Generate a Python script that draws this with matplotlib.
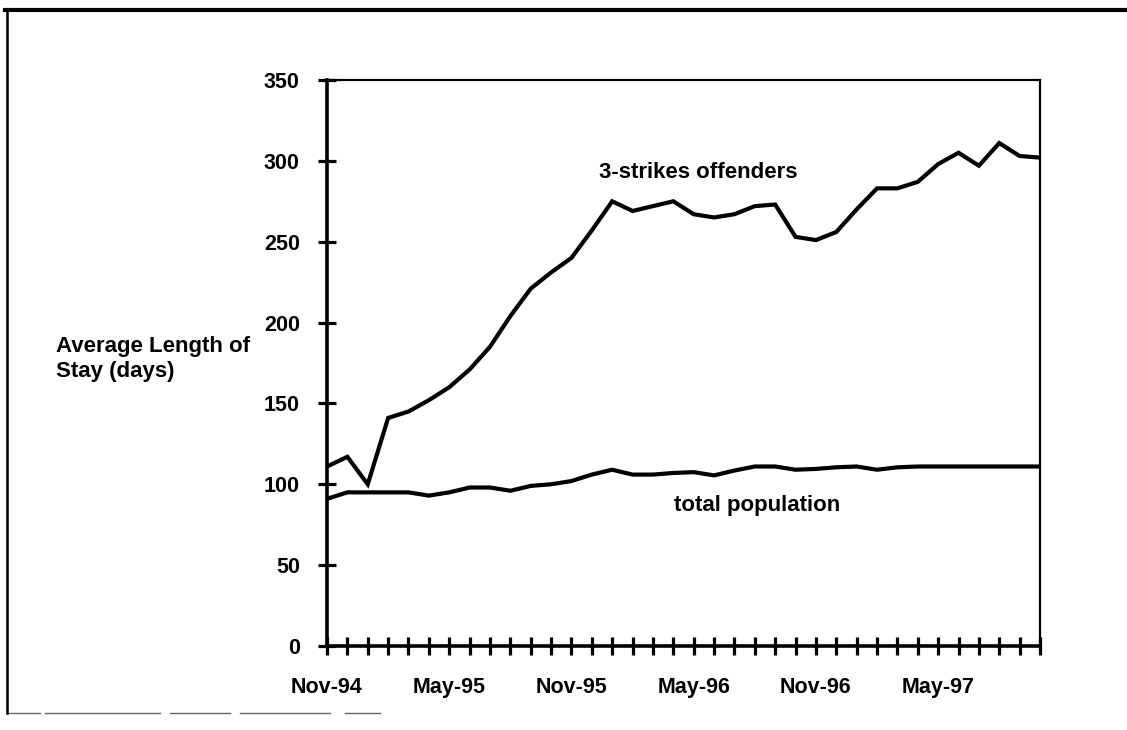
import matplotlib
matplotlib.use("Agg")
import matplotlib.pyplot as plt
from matplotlib.lines import Line2D

plt.rcParams['font.family'] = ['Liberation Sans', 'DejaVu Sans']
plt.rcParams['font.weight'] = 'bold'

months = ["Nov-94", "Dec-94", "Jan-95", "Feb-95", "Mar-95", "Apr-95",
          "May-95", "Jun-95", "Jul-95", "Aug-95", "Sep-95", "Oct-95",
          "Nov-95", "Dec-95", "Jan-96", "Feb-96", "Mar-96", "Apr-96",
          "May-96", "Jun-96", "Jul-96", "Aug-96", "Sep-96", "Oct-96",
          "Nov-96", "Dec-96", "Jan-97", "Feb-97", "Mar-97", "Apr-97",
          "May-97", "Jun-97", "Jul-97", "Aug-97", "Sep-97", "Oct-97"]

three_strikes = [111, 117, 100, 141, 145, 152, 160, 171, 185, 204, 221, 231,
                 240, 257, 275, 269, 272, 275, 267, 265, 267, 272, 273, 253,
                 251, 256, 270, 283, 283, 287, 298, 305, 297, 311, 303, 302]

total_population = [91, 95, 95, 95, 95, 93, 95, 98, 98, 96, 99, 100,
                    102, 106, 109, 106, 106, 107, 107.5, 105.5, 108.5, 111, 111, 109,
                    109.5, 110.5, 111, 109, 110.5, 111, 111, 111, 111, 111, 111, 111]

y_ticks = [0, 50, 100, 150, 200, 250, 300, 350]
label_every = 6

W, H = 1127, 730
fig = plt.figure(figsize=(W / 100, H / 100), dpi=100)
ax = fig.add_axes([327 / W, 1 - 646 / H, (1040 - 327) / W, (646 - 80) / H])

x = list(range(len(months)))
ax.plot(x, three_strikes, color='black', lw=3.0, solid_joinstyle='miter')
ax.plot(x, total_population, color='black', lw=3.0, solid_joinstyle='miter')

ax.set_xlim(0, len(months) - 1)
ax.set_ylim(0, 350)
ax.set_yticks(y_ticks)
ax.set_yticklabels([str(v) for v in y_ticks])
ax.set_xticks(x)
ax.set_xticklabels([m if i % label_every == 0 else "" for i, m in enumerate(months)])

ax.tick_params(axis='both', direction='inout', length=13, width=2.3,
               colors='black', labelsize=15.5)
ax.tick_params(axis='y', pad=13)
ax.tick_params(axis='x', pad=16)

for side in ['left', 'bottom']:
    ax.spines[side].set_linewidth(2.6)
for side in ['top', 'right']:
    ax.spines[side].set_linewidth(1.6)

ax.text(18.2, 293, "3-strikes offenders", ha='center', va='center', fontsize=16)
ax.text(21.1, 87, "total population", ha='center', va='center', fontsize=16)

fig.text(56 / W, 1 - 359 / H, "Average Length of\nStay (days)", ha='left',
         va='center', fontsize=16, multialignment='left', linespacing=1.2)

# outer frame of the scanned page
fig.add_artist(Line2D([5 / W, 1], [1 - 10 / H, 1 - 10 / H], transform=fig.transFigure,
                      color='black', lw=3))
fig.add_artist(Line2D([7 / W, 7 / W], [1 - 10 / H, 1 - 713 / H], transform=fig.transFigure,
                      color='black', lw=1.8))
for x0, x1 in [(7, 40), (45, 160), (170, 230), (240, 330), (345, 380)]:
    fig.add_artist(Line2D([x0 / W, x1 / W], [1 - 713 / H, 1 - 713 / H],
                          transform=fig.transFigure, color='black', lw=1.0, alpha=0.6))

fig.savefig("out.png", dpi=100)
